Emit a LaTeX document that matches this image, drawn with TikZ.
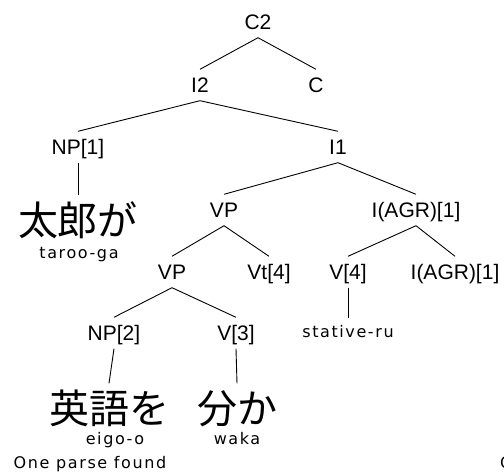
\documentclass[tikz,border=0pt]{standalone}
\usepackage{fontspec}
\newfontfamily\labfam{Liberation Sans}
\newfontfamily\smfam{DejaVu Sans}[LetterSpace=10]
\newfontfamily\jpfam{Noto Sans CJK JP}
\begin{document}
\begin{tikzpicture}[x=1pt,y=-1pt,
  lab/.style={font=\labfam\fontsize{21}{25}\selectfont, text height=15pt, text depth=0pt, inner xsep=0pt, inner ysep=8pt},
  sm/.style={font=\smfam\fontsize{16}{18}\selectfont, text height=12pt, text depth=3.5pt, inner xsep=0pt, inner ysep=7pt},
  jp/.style={font=\jpfam\fontsize{40}{44}\selectfont, text height=34pt, text depth=3pt, inner xsep=0pt, inner ysep=6pt},
  edge/.style={draw=black, line width=0.9pt}]
\useasboundingbox (0,0) rectangle (504,473);
% labels
\node[lab] (c2)    at (258,22)  {C2};
\node[lab] (i2)    at (200,85)  {I2};
\node[lab] (c)     at (316,85)  {C};
\node[lab] (np1)   at (78,147)  {NP[1]};
\node[lab] (i1)    at (338,147) {I1};
\node[lab] (vp)    at (224,210) {VP};
\node[lab] (iagr)  at (416,210) {I(AGR)[1]};
\node[lab] (vp2)   at (172,272) {VP};
\node[lab] (vt4)   at (269,272) {Vt[4]};
\node[lab] (v4)    at (348,272) {V[4]};
\node[lab] (iagr2) at (455,272) {I(AGR)[1]};
\node[lab] (np2)   at (114,333) {NP[2]};
\node[lab] (v3)    at (236,333) {V[3]};
% leaves
\node[jp] (taro)  at (78,220)  {太郎が};
\node[sm] (taror) at (79,254)  {taroo-ga};
\node[jp] (eigo)  at (109,408) {英語を};
\node[sm] (eigor) at (115,440) {eigo-o};
\node[jp] (waka)  at (237,408) {分か};
\node[sm] (wakar) at (237,440) {waka};
\node[sm] (stat)  at (348,333) {stative-ru};
\node[sm] (msg)   at (90,464)  {One parse found};
\node[sm, anchor=west] (msg2) at (500,464) {O};
% edges
\draw[edge] (c2.south) -- (i2.north);
\draw[edge] (c2.south) -- (c.north);
\draw[edge] (i2.south) -- (np1.north);
\draw[edge] (i2.south) -- (i1.north);
\draw[edge] (np1.south) -- (taro.north);
\draw[edge] (i1.south) -- (vp.north);
\draw[edge] (i1.south) -- (iagr.north);
\draw[edge] (vp.south) -- (vp2.north);
\draw[edge] (vp.south) -- (vt4.north);
\draw[edge] (iagr.south) -- (v4.north);
\draw[edge] (iagr.south) -- (iagr2.north);
\draw[edge] (vp2.south) -- (np2.north);
\draw[edge] (vp2.south) -- (v3.north);
\draw[edge] (np2.south) -- (eigo.north);
\draw[edge] (v3.south) -- (waka.north);
\draw[edge] (v4.south) -- (stat.north);
\end{tikzpicture}
\end{document}
